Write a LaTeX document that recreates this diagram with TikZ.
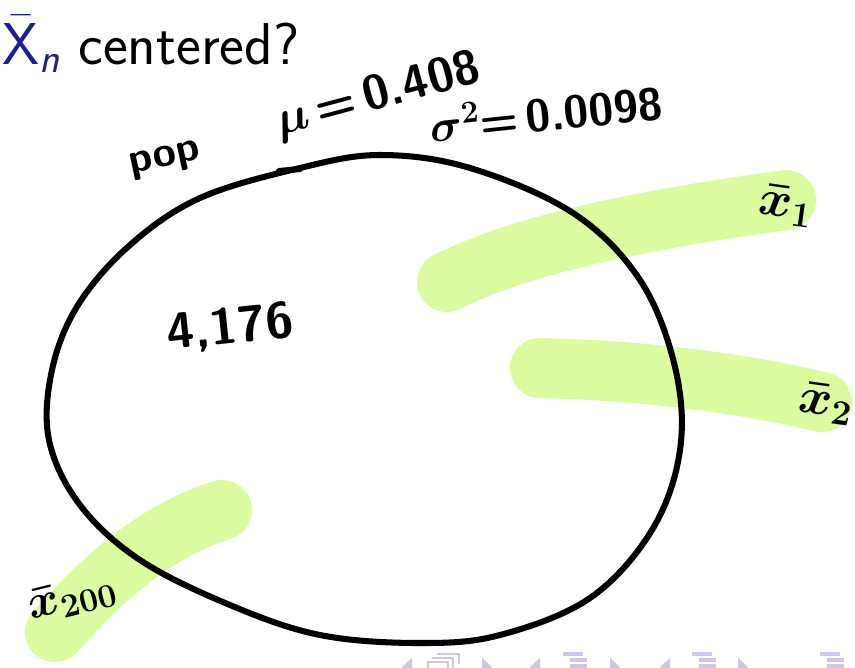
\RequirePackage{fix-cm}
\documentclass[tikz,border=0pt]{standalone}
\usepackage{amsmath}
\definecolor{hilite}{RGB}{220,252,160}
\definecolor{navy}{RGB}{30,30,150}
\definecolor{navsym}{RGB}{200,200,236}
\begin{document}
\begin{tikzpicture}[x=0.025cm,y=-0.025cm,line cap=round,line join=round,
  ink/.style={font=\fontsize{#1}{#1}\selectfont\sffamily\bfseries\boldmath},ink/.default=30,
  marker/.style={hilite,line width=1.5cm},
  navbar/.style={navsym,line width=2.2pt,line cap=butt}]
\useasboundingbox (0,0) rectangle (855,667);
% title
\node[anchor=base west,inner sep=0pt,font=\fontsize{42}{46}\selectfont\sffamily] (title) at (2,64) {{\color{navy}$\bar{\mathsf{X}}_{\textsf{\slshape n}}$}\ centered?};
% highlighter strokes
\coordinate (m1a) at (447,282);\coordinate (m1b) at (786,200);
\coordinate (m2a) at (540,368);\coordinate (m2b) at (822,402);
\coordinate (m3a) at (222,510);\coordinate (m3b) at (55,632);
\draw[marker] (m1a) .. controls (520,245) and (640,220) .. (m1b);
\draw[marker] (m2a) .. controls (620,370) and (720,378) .. (m2b);
\draw[marker] (m3a) .. controls (160,530) and (110,570) .. (m3b);
% population
\draw[line width=4.3pt] plot[smooth cycle,tension=0.6] coordinates {(300,168) (380,155) (470,168) (573,213) (640,280) (675,367) (680,450) (652,530) (590,598) (500,635) (420,643) (320,635) (230,605) (140,560) (80,505) (49,440) (52,370) (78,305) (130,245) (200,198)};
\draw[line width=4.3pt] (279,171)--(300,169);
\node[ink,rotate=12] (pop) at (165,160) {pop};
\node[ink=34,rotate=15] (mu) at (378,96) {$\mu$\,=\,0.408};
\node[ink=32,rotate=6] (sig) at (546,113) {$\sigma^2$=\,0.0098};
\node[ink=36,rotate=6] (size) at (230,328) {4,176};
\node[ink=36,rotate=-8] (x1) at (786,206) {$\bar{x}_1$};
\node[ink=36,rotate=-8] (x2) at (826,404) {$\bar{x}_2$};
\node[ink=34,rotate=14] (x200) at (72,598) {$\bar{x}_{200}$};
% navigation symbols
\foreach \x in {402,530,660}{\fill[navsym] (\x,667)--(\x+10,658)--(\x+10,676)--cycle;}
\foreach \x in {482,610,738}{\fill[navsym] (\x,658)--(\x+10,667)--(\x,676)--cycle;}
\draw[navsym,line width=1.6pt] (428,662) rectangle (448,672) (433,658)--(453,658)--(453,667) (438,654)--(459,654)--(459,663);
\foreach \x in {563,692,820}{\draw[navbar] (\x,654)--(\x+20,654) (\x+7,660)--(\x+24,660) (\x+7,666)--(\x+24,666);}
\end{tikzpicture}
\end{document}
